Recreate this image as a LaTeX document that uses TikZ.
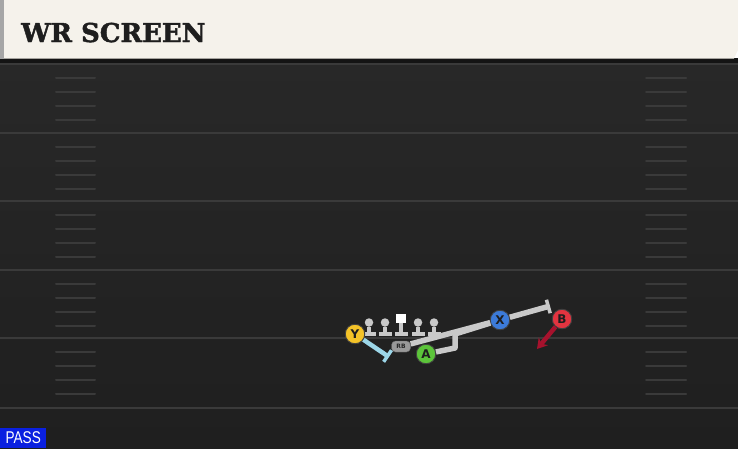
\documentclass[tikz,border=0pt]{standalone}
\usepackage{fontspec}
\setmainfont{DejaVu Sans}
\newfontfamily\titlefont[FakeBold=1.6]{DejaVu Serif Bold}
\newfontfamily\passfont[FakeStretch=0.8]{Liberation Sans}
\usepackage{xcolor}
\definecolor{FieldTop}{RGB}{40,40,40}
\definecolor{FieldBot}{RGB}{31,31,31}
\definecolor{Yard}{RGB}{58,58,58}
\definecolor{Paper}{RGB}{245,242,235}
\definecolor{Ink}{RGB}{30,30,30}
\definecolor{ColY}{RGB}{244,195,40}
\definecolor{ColA}{RGB}{92,196,58}
\definecolor{ColX}{RGB}{60,123,217}
\definecolor{ColB}{RGB}{226,52,64}
\definecolor{RouteGray}{RGB}{201,201,201}
\definecolor{RouteBlue}{RGB}{156,214,232}
\definecolor{RouteRed}{RGB}{166,18,45}
\definecolor{PassBlue}{RGB}{10,32,224}
\usepackage{tikz}
\usetikzlibrary{arrows.meta}
\tikzstyle{Player}=[circle,draw=black!75,line width=0.9pt,inner sep=0pt,
minimum size=19.5pt,text=Ink,font=\bfseries\fontsize{12}{12}\selectfont]
\tikzstyle{Head}=[circle,fill=RouteGray,inner sep=0pt,minimum size=8.5pt]
\tikzstyle{Center}=[rectangle,fill=white,inner sep=0pt,minimum size=9.5pt]
\tikzstyle{Base}=[rectangle,fill=RouteGray,inner sep=0pt,minimum width=13pt,
minimum height=4.5pt]
\tikzstyle{Stem}=[draw=RouteGray,line width=4.5pt]
\tikzstyle{Back}=[rectangle,rounded corners=4pt,draw=black!60,fill=black!40,
text=black!85,inner sep=0pt,minimum width=19pt,minimum height=11pt,
font=\bfseries\fontsize{6}{6}\selectfont]
\tikzstyle{Route}=[draw=RouteGray,line width=5.5pt]
\tikzstyle{Block}=[-{Bar[width=14pt,line width=3.5pt]}]
\tikzstyle{YardLine}=[draw=Yard,line width=2pt]
\tikzstyle{Hash}=[draw=Yard,line width=2pt,line cap=round]

\begin{document}
\begin{tikzpicture}[x=1pt,y=-1pt]
        \useasboundingbox (0,0) rectangle (738,448);
        % field
        \shade[top color=FieldTop,bottom color=FieldBot] (0,59) rectangle (738,448);
        \foreach \l in {64,133,201,270,338,408}
            \draw[YardLine] (0,\l) -- (738,\l);
        \foreach \l in {64,133,201,270,338}
            \foreach \k in {1,...,4}{
                \draw[Hash] (56,\l+\k*13.8+0.5) -- (95,\l+\k*13.8+0.5);
                \draw[Hash] (646,\l+\k*13.8+0.5) -- (686,\l+\k*13.8+0.5);
            }
        % header
        \fill[black!92] (0,58) rectangle (738,63);
        \fill[Paper] (3,0) -- (738,0) -- (738,50) -- (734,58.5) -- (3,58.5) -- cycle;
        \fill[black!35] (0,0) rectangle (4,58.5);
        \node[anchor=base west,inner sep=0pt,text=Ink,
            font=\titlefont\fontsize{26}{30}\selectfont](title)
            at (21,42){WR SCREEN};
        % line
        \foreach \x[count=\i] in {369,385,418,434}{
            \node[Head](h\i)at(\x,322.5){};
            \node[Base](b\i)at(\x,334){};
            \draw[Stem](h\i)--(b\i);
        }
        \node[Center](c)at(401,318.5){};
        \node[Base](cb)at(401,334){};
        \draw[Stem](c)--(cb);
        % players
        \node[Back](rb)at(401,346.5){RB};
        \node[Player,fill=ColY](y)at(355,334){Y};
        \node[Player,fill=ColA](a)at(426,354){A};
        \node[Player,fill=ColX](x)at(500,320){X};
        \node[Player,fill=ColB](b)at(562,319){B};
        \coordinate(yend)at(389,357);
        \coordinate(xend)at(550,306);
        \coordinate(bend)at(537,349);
        \coordinate(a1)at(455,348);
        \coordinate(a2)at(455,334);
        % routes
        \draw[Route](rb)--(x);
        \draw[Route,line join=round](a)--(a1)--(a2)--(x);
        \draw[Route,Block](x)--(xend);
        \draw[draw=RouteBlue,line width=4.5pt,Block](y)--(yend);
        \draw[draw=RouteRed,line width=4.5pt,-{Stealth[length=10pt,width=12pt]}](b)--(bend);
        % play type
        \node[anchor=south west,fill=PassBlue,text=white,inner sep=0pt,
            minimum width=46pt,minimum height=20pt,
            font=\passfont\fontsize{17}{17}\selectfont](pass)at(0,448){PASS};
    \end{tikzpicture}
\end{document}
